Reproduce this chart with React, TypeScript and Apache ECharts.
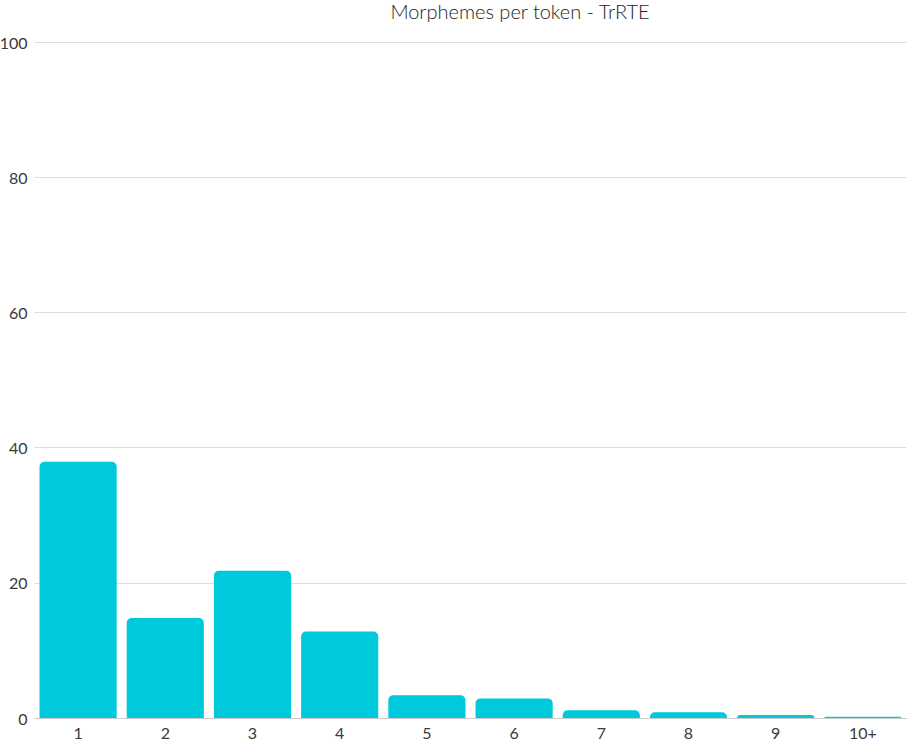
import React, { useEffect, useRef } from "react";
import * as echarts from "echarts";

const categories = ["1", "2", "3", "4", "5", "6", "7", "8", "9", "10+"];
const values = [37.9, 14.8, 21.8, 12.8, 3.36, 2.9, 1.14, 0.84, 0.44, 0.2];
const chartTitle = "Morphemes per token - TrRTE";

export default function App() {
  const ref = useRef<HTMLDivElement>(null);
  useEffect(() => {
    if (!ref.current) return;
    const chart = echarts.init(ref.current, undefined, { renderer: "svg" });
    chart.setOption({
      animation: false,
      textStyle: { fontFamily: "Lato" },
      title: {
        text: chartTitle,
        left: 515,
        textAlign: "center",
        top: -4,
        textStyle: { fontSize: 20, fontWeight: 300, color: "#222", fontFamily: "Lato" },
      },
      grid: { left: 34.5, right: 0.5, top: 42, bottom: 25, containLabel: false, outerBoundsMode: "none" },
      xAxis: {
        type: "category",
        data: categories,
        axisLine: { lineStyle: { color: "#ccc" } },
        axisTick: { show: false },
        axisLabel: { color: "#3a3a3a", fontSize: 16, margin: 6 },
      },
      yAxis: {
        type: "value",
        min: 0,
        max: 100,
        interval: 20,
        axisLine: { show: false },
        axisTick: { show: false },
        axisLabel: { color: "#3a3a3a", fontSize: 16, margin: 7 },
        splitLine: { lineStyle: { color: "#ddd" } },
      },
      series: [
        {
          type: "bar",
          data: values,
          barCategoryGap: "11.5%",
          itemStyle: { color: "#00C9DB", borderRadius: [5, 5, 0, 0] },
        },
      ],
    });
    return () => chart.dispose();
  }, []);
  return <div ref={ref} style={{ width: 907, height: 743, position: "absolute", left: 0, top: 0 }} />;
}
